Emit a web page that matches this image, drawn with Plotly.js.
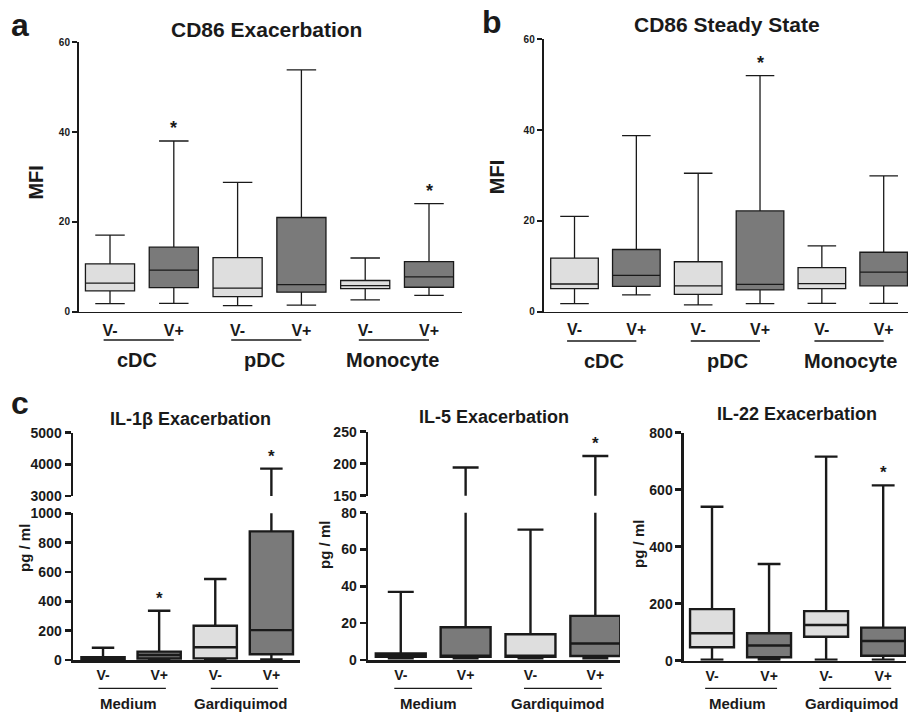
<!DOCTYPE html>
<html>
<head>
<meta charset="utf-8">
<script src="https://cdn.plot.ly/plotly-3.0.1.min.js"></script>
<style>html,body{margin:0;padding:0;background:#fff;}#chart{width:908px;height:712px;}</style>
</head>
<body>
<div id="chart"></div>
<script>
// ---------- data (box order: group1 V-, group1 V+, group2 V-, group2 V+, ...) ----------
const boxLabels = ['V-', 'V+', 'V-', 'V+', 'V-', 'V+'];
const cellGroups = ['cDC', 'pDC', 'Monocyte'];
const stimGroups = ['Medium', 'Gardiquimod'];

// a: CD86 Exacerbation (MFI)
const cd86ExMin = [1.85, 1.9, 1.4, 1.55, 2.7, 3.7];
const cd86ExQ1  = [4.7, 5.4, 3.4, 4.4, 5.2, 5.5];
const cd86ExMed = [6.4, 9.3, 5.3, 6.1, 5.85, 7.8];
const cd86ExQ3  = [10.7, 14.4, 12.1, 21.0, 7.0, 11.2];
const cd86ExMax = [17.1, 38.0, 28.8, 53.8, 12.0, 24.1];
const cd86ExSig = [0, 1, 0, 0, 0, 1];

// b: CD86 Steady State (MFI)
const cd86SsMin = [1.8, 3.7, 1.5, 1.8, 1.85, 1.85];
const cd86SsQ1  = [5.1, 5.6, 3.8, 4.8, 5.1, 5.7];
const cd86SsMed = [6.1, 8.0, 5.7, 6.0, 6.2, 8.7];
const cd86SsQ3  = [11.8, 13.7, 11.0, 22.2, 9.7, 13.1];
const cd86SsMax = [21.0, 38.8, 30.5, 52.0, 14.5, 29.9];
const cd86SsSig = [0, 0, 0, 1, 0, 0];

// c: IL-1beta Exacerbation (pg/ml)
const il1Min = [0, 2, 0, 4];
const il1Q1  = [5, 10, 11, 39];
const il1Med = [11, 34, 87, 204];
const il1Q3  = [20, 57, 234, 877];
const il1Max = [84, 336, 552, 3863];
const il1Sig = [0, 1, 0, 1];

// c: IL-5 Exacerbation (pg/ml)
const il5Min = [1, 1, 1, 1];
const il5Q1  = [1.8, 1.8, 1.8, 2.2];
const il5Med = [2.5, 1.8, 1.8, 9];
const il5Q3  = [3.6, 17.8, 14, 24];
const il5Max = [37, 194, 70.8, 212];
const il5Sig = [0, 0, 0, 1];

// c: IL-22 Exacerbation (pg/ml)
const il22Min = [3.5, 3.5, 3.5, 3.5];
const il22Q1  = [47, 12, 84, 17.5];
const il22Med = [96, 53, 125, 69];
const il22Q3  = [181, 96, 174, 116];
const il22Max = [540, 339, 716, 615];
const il22Sig = [0, 0, 0, 1];

// ---------- styling ----------
const FONT = 'Liberation Sans, Arial, Helvetica, sans-serif';
const LIGHT = '#dedede';
const DARK = '#7a7a7a';
const INK = '#1a1a1a';

function pick(arr, parity) { return arr.filter((_, i) => i % 2 === parity); }
function idx(arr, parity) { return arr.map((_, i) => i).filter(i => i % 2 === parity); }

function boxTraces(xa, ya, mn, q1, md, q3, mx, lw, ww) {
  const out = [];
  [0, 1].forEach(p => {
    out.push({
      type: 'box', xaxis: xa, yaxis: ya,
      x: idx(md, p),
      lowerfence: pick(mn, p), q1: pick(q1, p), median: pick(md, p),
      q3: pick(q3, p), upperfence: pick(mx, p),
      width: 0.77, whiskerwidth: ww,
      fillcolor: p === 0 ? LIGHT : DARK,
      line: {color: INK, width: lw},
      boxpoints: false, hoverinfo: 'skip', showlegend: false
    });
  });
  return out;
}

const traces = [].concat(
  boxTraces('x', 'y', cd86ExMin, cd86ExQ1, cd86ExMed, cd86ExQ3, cd86ExMax, 1.3, 0.6),
  boxTraces('x2', 'y2', cd86SsMin, cd86SsQ1, cd86SsMed, cd86SsQ3, cd86SsMax, 1.3, 0.6),
  boxTraces('x3', 'y3', il1Min, il1Q1, il1Med, il1Q3, il1Max, 2.4, 0.52),
  boxTraces('x3', 'y4', il1Min, il1Q1, il1Med, il1Q3, il1Max, 2.4, 0.52),
  boxTraces('x4', 'y5', il5Min, il5Q1, il5Med, il5Q3, il5Max, 2.4, 0.52),
  boxTraces('x4', 'y6', il5Min, il5Q1, il5Med, il5Q3, il5Max, 2.4, 0.52),
  boxTraces('x5', 'y7', il22Min, il22Q1, il22Med, il22Q3, il22Max, 2.4, 0.52)
);

function xAxis(domain, range, anchor, n, fs, lw, standoff) {
  return {
    domain: domain, range: range, anchor: anchor,
    tickmode: 'array', tickvals: boxLabels.slice(0, n).map((_, i) => i),
    ticktext: boxLabels.slice(0, n).map(t => '<b>' + t + '</b>'),
    ticks: '', showline: true, linecolor: INK, linewidth: lw,
    tickfont: {family: FONT, size: fs, color: INK, weight: 700},
    ticklabelstandoff: standoff,
    showgrid: false, zeroline: false, fixedrange: true
  };
}
function yAxis(domain, range, anchor, tickvals, fs, lw, tl) {
  return {
    domain: domain, range: range, anchor: anchor,
    tickmode: 'array', tickvals: tickvals, ticktext: tickvals.map(v => '<b>' + v + '</b>'),
    ticks: 'outside', ticklen: tl, tickwidth: lw, tickcolor: INK,
    showline: true, linecolor: INK, linewidth: lw,
    tickfont: {family: FONT, size: fs, color: INK, weight: 700},
    showgrid: false, zeroline: false, fixedrange: true
  };
}

const layout = {
  width: 908, height: 712,
  margin: {l: 0, r: 0, t: 0, b: 0},
  paper_bgcolor: '#fff', plot_bgcolor: 'rgba(0,0,0,0)',
  showlegend: false,
  boxmode: 'overlay',
  xaxis:  xAxis([0.0870, 0.5088], [-0.486, 5.517], 'y', 6, 16, 1.5, 3),
  yaxis:  yAxis([0.5618, 0.9410], [0, 60], 'x', [0, 20, 40, 60], 10, 2, 5),
  xaxis2: xAxis([0.5988, 1.0], [-0.498, 5.393], 'y2', 6, 16, 1.5, 3),
  yaxis2: yAxis([0.5622, 0.9448], [0, 60], 'x2', [0, 20, 40, 60], 10, 2, 5),
  xaxis3: xAxis([0.0804, 0.3304], [-0.535, 3.51], 'y3', 4, 14, 2.5, 1),
  yaxis3: yAxis([0.0730, 0.2791], [0, 1000], 'x3', [0, 200, 400, 600, 800, 1000], 14, 2.5, 6),
  yaxis4: yAxis([0.3034, 0.3923], [3000, 5000], 'x3', [3000, 4000, 5000], 14, 2.5, 6),
  xaxis4: xAxis([0.4053, 0.6828], [-0.505, 3.38], 'y5', 4, 14, 2.5, 1),
  yaxis5: yAxis([0.0730, 0.2799], [0, 80], 'x4', [0, 20, 40, 60, 80], 14, 2.5, 6),
  yaxis6: yAxis([0.3038, 0.3937], [150, 250], 'x4', [150, 200, 250], 14, 2.5, 6),
  xaxis5: xAxis([0.7533, 0.9978], [-0.491, 3.40], 'y7', 4, 14, 2.5, 1),
  yaxis7: yAxis([0.0721, 0.3923], [0, 800], 'x5', [0, 200, 400, 600, 800], 14, 2.5, 6),
  annotations: [],
  shapes: []
};

function txt(x, y, text, size, extra) {
  return Object.assign({
    xref: 'paper', yref: 'paper', x: x, y: y, text: text, showarrow: false,
    xanchor: 'center', yanchor: 'middle',
    font: {family: FONT, size: size, color: INK, weight: 700}
  }, extra || {});
}

// panel letters and titles
layout.annotations.push(
  txt(0.022, 0.9649, 'a', 32), txt(0.5415, 0.9695, 'b', 32), txt(0.022, 0.4336, 'c', 32),
  txt(0.2937, 0.9588, 'CD86 Exacerbation', 21), txt(0.8007, 0.9649, 'CD86 Steady State', 21),
  txt(0.2101, 0.4111, 'IL-1β Exacerbation', 18), txt(0.5446, 0.4139, 'IL-5 Exacerbation', 18),
  txt(0.8774, 0.4181, 'IL-22 Exacerbation', 18),
  txt(0.0396, 0.7435, 'MFI', 20, {textangle: -90}), txt(0.547, 0.7507, 'MFI', 20, {textangle: -90}),
  txt(0.0264, 0.2303, 'pg / ml', 15, {textangle: -90}), txt(0.3579, 0.2346, 'pg / ml', 15, {textangle: -90}),
  txt(0.7037, 0.2360, 'pg / ml', 15, {textangle: -90})
);

// group labels and underlines
function groups(xa, names, lineY, textY, size, x0, x1, tOff, lw) {
  names.forEach((g, k) => {
    layout.shapes.push({type: 'line', xref: xa, yref: 'paper', x0: 2 * k + x0, x1: 2 * k + x1,
      y0: lineY, y1: lineY, line: {color: INK, width: lw}});
    layout.annotations.push(Object.assign(txt(2 * k + tOff, textY, g, size), {xref: xa}));
  });
}
groups('x', cellGroups, 0.5225, 0.4944, 20, -0.1, 1.0, 0.42, 1.3);
groups('x2', cellGroups, 0.5211, 0.4930, 20, -0.12, 1.0, 0.47, 1.3);
groups('x3', stimGroups, 0.0333, 0.0126, 15, -0.08, 1.12, 0.45, 1.3);
groups('x4', stimGroups, 0.0333, 0.0126, 15, -0.1, 1.1, 0.42, 1.3);
groups('x5', stimGroups, 0.0333, 0.0126, 15, -0.12, 1.14, 0.45, 1.3);

// significance stars above the whisker caps
function stars(xa, yaLow, yaHigh, lowMax, mx, sig, size) {
  sig.forEach((s, i) => {
    if (!s) return;
    layout.annotations.push({
      xref: xa, yref: (yaHigh && mx[i] > lowMax) ? yaHigh : yaLow,
      x: i, y: mx[i], text: '*', showarrow: false, xanchor: 'center', yanchor: 'bottom', yshift: 1,
      font: {family: FONT, size: size, color: INK, weight: 700}
    });
  });
}
stars('x', 'y', null, 60, cd86ExMax, cd86ExSig, 18);
stars('x2', 'y2', null, 60, cd86SsMax, cd86SsSig, 18);
stars('x3', 'y3', 'y4', 1000, il1Max, il1Sig, 17);
stars('x4', 'y5', 'y6', 80, il5Max, il5Sig, 17);
stars('x5', 'y7', null, 800, il22Max, il22Sig, 17);

Plotly.newPlot('chart', traces, layout, {staticPlot: true, displayModeBar: false});
</script>
</body>
</html>
